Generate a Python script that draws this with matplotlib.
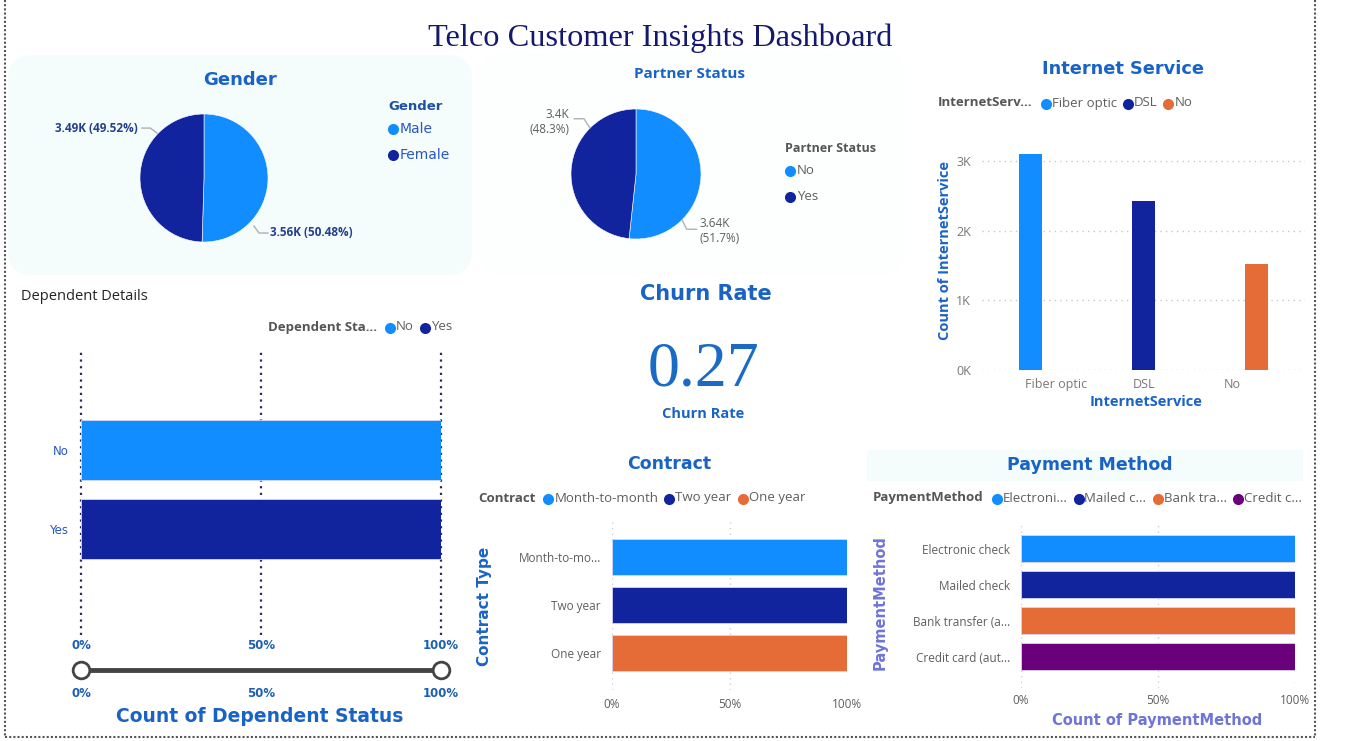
import matplotlib
matplotlib.use("Agg")
import matplotlib.pyplot as plt
from matplotlib.patches import FancyBboxPatch
from matplotlib.ticker import FuncFormatter
import numpy as np

W, H = 1352, 741

# ---- data ----
gender_labels = ["Male", "Female"]
gender_counts = [3555, 3488]

partner_labels = ["No", "Yes"]
partner_counts = [3641, 3402]

churn_rate = 0.27

internet_labels = ["Fiber optic", "DSL", "No"]
internet_counts = [3096, 2421, 1526]
internet_ticks = [0, 1000, 2000, 3000]

dependent_labels = ["No", "Yes"]
dependent_counts = [4933, 2110]

contract_labels = ["Month-to-month", "Two year", "One year"]
contract_ticklabels = ["Month-to-mo...", "Two year", "One year"]
contract_counts = [3875, 1695, 1473]

payment_labels = ["Electronic check", "Mailed check", "Bank transfer (automatic)", "Credit card (automatic)"]
payment_ticklabels = ["Electronic check", "Mailed check", "Bank transfer (a...", "Credit card (aut..."]
payment_legend = ["Electroni...", "Mailed c...", "Bank tra...", "Credit c..."]
payment_counts = [2365, 1612, 1544, 1522]

pct_ticks = [0, 0.5, 1]
pct_ticklabels = ["0%", "50%", "100%"]

# ---- styling ----
COLORS = ["#118DFF", "#12239E", "#E66C37", "#6B007B"]
SANS = "Open Sans"
COMIC = "DejaVu Sans"
TITLE_BLUE = "#1a63c6"
LAVENDER = "#6f74d8"
GRAY = "#605e5c"

fig = plt.figure(figsize=(W / 100, H / 100), dpi=100)
fig.patch.set_facecolor("white")
renderer = fig.canvas.get_renderer()

# background layer in pixel coordinates
bg = fig.add_axes([0, 0, 1, 1])
bg.set_xlim(0, W)
bg.set_ylim(H, 0)
bg.axis("off")


def px_axes(x0, y0, x1, y1):
    ax = fig.add_axes([x0 / W, 1 - y1 / H, (x1 - x0) / W, (y1 - y0) / H])
    ax.set_facecolor("none")
    return ax


def card(x0, y0, x1, y1, color, r=25):
    bg.add_patch(FancyBboxPatch((x0, y0), x1 - x0, y1 - y0,
                                boxstyle=f"round,pad=0,rounding_size={r}",
                                fc=color, ec="none", zorder=0))


def hlegend(x, y, title, labels, colors, fs=9.5):
    t = bg.text(x, y, title, fontsize=fs, fontweight="bold", color="#555555",
                family=SANS, va="center", ha="left")
    x = t.get_window_extent(renderer).x1 + 8
    for lab, c in zip(labels, colors):
        bg.plot([x + 5], [y + 1], "o", ms=8, color=c, mec="none")
        t = bg.text(x + 11, y, lab, fontsize=fs, color=GRAY, family=SANS,
                    va="center", ha="left")
        x = t.get_window_extent(renderer).x1 + 6


def kfmt(v, nd=2):
    s = f"{v / 1000 + 1e-9:.{nd}f}"
    return s.rstrip("0").rstrip(".") + "K"


def pie_label(ax, pts, txt, tx, ty, ha, **kw):
    xs, ys = zip(*pts)
    ax.plot(xs, ys, color="#b0b0b0", lw=1, clip_on=False)
    ax.text(tx, ty, txt, ha=ha, va="center", clip_on=False, **kw)


# ---- border and cards ----
dot = dict(color="#555555", lw=1.5, ls=(0, (1, 1)))
bg.plot([5, 5], [0, 737], **dot)
bg.plot([1315, 1315], [0, 737], **dot)
bg.plot([5, 1315], [737, 737], **dot)

card(8, 55, 472, 275, "#f4fcfc")
card(480, 52, 905, 275, "#fdfefe")
card(867, 450, 1303, 481, "#f4fcfc", r=2)

fig.text(660 / W, 1 - 38 / H, "Telco Customer Insights Dashboard", family="Liberation Serif",
         fontsize=23.3, color="#14196e", ha="center", va="center")

# ---- Gender pie ----
bg.text(240, 80, "Gender", family=COMIC, fontweight="bold", fontsize=13, color=TITLE_BLUE,
        ha="center", va="center")
ax = px_axes(140, 114, 268, 242)
ax.pie(gender_counts, colors=COLORS[:2], startangle=90, counterclock=False, radius=1,
       wedgeprops=dict(edgecolor="white", linewidth=0.4))
ax.set_xlim(-1, 1)
ax.set_ylim(-1, 1)
gtot = sum(gender_counts)
g_txt = [f"{kfmt(c)} ({c / gtot * 100:.2f}%)" for c in gender_counts]
lab_kw = dict(family=SANS, fontsize=8.5, fontweight="bold", color="#23408f")
pie_label(ax, [(0.78, -0.75), (0.86, -0.86), (1.0, -0.86)], g_txt[0], 1.03, -0.85, "left", **lab_kw)
pie_label(ax, [(-0.73, 0.70), (-0.84, 0.78), (-0.97, 0.78)], g_txt[1], -1.03, 0.77, "right", **lab_kw)

bg.text(388, 107, "Gender", family=COMIC, fontweight="bold", fontsize=9.5, color="#1f4fa8",
        ha="left", va="center")
for i, (lab, c) in enumerate(zip(gender_labels, COLORS)):
    yy = 129 + i * 26
    bg.plot([393], [yy], "o", ms=8, color=c, mec="none")
    bg.text(400, yy, lab, family=COMIC, fontsize=10, color="#2a56c6", ha="left", va="center")

# ---- Partner pie ----
bg.text(690, 74, "Partner Status", family=SANS, fontweight="bold", fontsize=11, color=TITLE_BLUE,
        ha="center", va="center")
ax = px_axes(571, 109, 701, 239)
ax.pie(partner_counts, colors=COLORS[:2], startangle=90, counterclock=False, radius=1,
       wedgeprops=dict(edgecolor="white", linewidth=0.4))
ax.set_xlim(-1, 1)
ax.set_ylim(-1, 1)
ptot = sum(partner_counts)
p_txt = [f"{kfmt(c)}\n({c / ptot * 100:.1f}%)" for c in partner_counts]
lab_kw = dict(family=SANS, fontsize=8.5, color=GRAY, linespacing=1.25)
pie_label(ax, [(0.71, -0.71), (0.78, -0.85), (0.93, -0.85)], p_txt[0], 0.98, -0.88, "left",
          multialignment="left", **lab_kw)
pie_label(ax, [(-0.71, 0.71), (-0.80, 0.85), (-0.95, 0.85)], p_txt[1], -1.03, 0.80, "right",
          multialignment="right", **lab_kw)

bg.text(785, 149, "Partner Status", family=SANS, fontweight="bold", fontsize=9, color="#555555",
        ha="left", va="center")
for i, (lab, c) in enumerate(zip(partner_labels, COLORS)):
    yy = 171 + i * 26
    bg.plot([790], [yy], "o", ms=8, color=c, mec="none")
    bg.text(797, yy, lab, family=SANS, fontsize=9.5, color=GRAY, ha="left", va="center")

# ---- Churn rate card ----
bg.text(706, 294, "Churn Rate", family=COMIC, fontweight="bold", fontsize=15, color=TITLE_BLUE,
        ha="center", va="center")
bg.text(704, 370, f"{churn_rate:.2f}", family="Liberation Serif", fontsize=46, color="#1a6bc4",
        ha="center", va="center")
bg.text(703, 414, "Churn Rate", family=SANS, fontweight="bold", fontsize=10.5, color=TITLE_BLUE,
        ha="center", va="center")

# ---- Internet service columns ----
bg.text(1123, 69, "Internet Service", family=COMIC, fontweight="bold", fontsize=12.8, color=TITLE_BLUE,
        ha="center", va="center")
hlegend(938, 103, "InternetServ...", internet_labels, COLORS)
ax = px_axes(982, 140, 1305, 370)
n = len(internet_labels)
slot = 25 / 88
values = np.diag(internet_counts)
for j in range(n):
    ax.bar(np.arange(n) + (j - (n - 1) / 2) * slot, values[:, j], width=23 / 88,
           color=COLORS[j], zorder=3)
ax.set_xlim(-0.84, 2.83)
ax.set_ylim(0, 3300)
ax.set_yticks(internet_ticks)
ax.yaxis.set_major_formatter(FuncFormatter(lambda v, p: f"{v / 1000:.0f}K"))
ax.set_xticks(range(n))
ax.set_xticklabels(internet_labels)
ax.grid(axis="y", color="#c8c8c8", ls=(0, (1, 3)), lw=1)
ax.tick_params(length=0, labelsize=9, labelcolor="#777777")
ax.tick_params(axis="x", pad=6)
ax.tick_params(axis="y", pad=8)
for lbl in ax.get_xticklabels() + ax.get_yticklabels():
    lbl.set_family(SANS)
for s in ax.spines.values():
    s.set_visible(False)
bg.text(1146, 402, "InternetService", family=SANS, fontweight="bold", fontsize=10.5,
        color=TITLE_BLUE, ha="center", va="center")
bg.text(945, 250, "Count of InternetService", family=SANS, fontweight="bold", fontsize=10.5,
        color=TITLE_BLUE, ha="center", va="center", rotation=90)


def pct_bars(ax, counts, colors, height):
    n = len(counts)
    share = np.diag(counts) / np.array(counts, dtype=float)[:, None]
    left = np.zeros(n)
    for j in range(n):
        ax.barh(np.arange(n), share[:, j], left=left, height=height, color=colors[j],
                edgecolor="#d6d6f5", linewidth=0.6, zorder=3)
        left += share[:, j]
    ax.set_xlim(0, 1)
    ax.set_xticks(pct_ticks)
    ax.set_xticklabels(pct_ticklabels)
    ax.set_yticks(range(n))
    for s in ax.spines.values():
        s.set_visible(False)
    ax.set_axisbelow(True)


# ---- Dependent details ----
bg.text(21, 296, "Dependent Details", family=SANS, fontsize=10.5, color="#252423",
        ha="left", va="center")
hlegend(268, 327, "Dependent Sta...", dependent_labels, COLORS)
ax = px_axes(81, 352, 441, 635)
pct_bars(ax, dependent_counts, COLORS, 60 / 79)
ax.set_ylim(2.34, -1.24)
ax.set_yticklabels(dependent_labels)
ax.grid(axis="x", color="#2b2b5e", ls=(0, (1, 2)), lw=1.6)
for gl in ax.get_xgridlines():
    gl.set_clip_on(False)
ax.tick_params(length=0)
ax.tick_params(axis="x", pad=3, labelsize=8.5, labelcolor="#1a5fb4")
ax.tick_params(axis="y", pad=9, labelsize=8.5, labelcolor="#2a56c6")
for lbl in ax.get_xticklabels():
    lbl.set_family(COMIC)
    lbl.set_fontweight("bold")
for lbl in ax.get_yticklabels():
    lbl.set_family(COMIC)

sl = px_axes(81, 660, 441, 680)
sl.plot([0, 1], [0, 0], color="#444444", lw=3.5, solid_capstyle="butt")
sl.plot([0, 1], [0, 0], "o", ms=12, mfc="white", mec="#444444", mew=2, clip_on=False)
sl.set_xlim(0, 1)
sl.set_ylim(-1, 1)
sl.set_yticks([])
sl.set_xticks(pct_ticks)
sl.set_xticklabels(pct_ticklabels)
sl.tick_params(length=0, pad=5, labelsize=8.5, labelcolor="#1a5fb4")
for lbl in sl.get_xticklabels():
    lbl.set_family(COMIC)
    lbl.set_fontweight("bold")
for s in sl.spines.values():
    s.set_visible(False)
bg.text(260, 716, "Count of Dependent Status", family=COMIC, fontweight="bold", fontsize=13.5,
        color=TITLE_BLUE, ha="center", va="center")

# ---- Contract ----
bg.text(669, 464, "Contract", family=COMIC, fontweight="bold", fontsize=12.5, color=TITLE_BLUE,
        ha="center", va="center")
hlegend(478, 498, "Contract", contract_labels, COLORS)
ax = px_axes(612, 522, 847, 690)
pct_bars(ax, contract_counts, COLORS, 0.75)
ax.set_ylim(2.77, -0.73)
ax.set_yticklabels(contract_ticklabels)
ax.grid(axis="x", color="#d0d0d0", ls=(0, (1, 3)), lw=1)
ax.tick_params(length=0, labelsize=8.5, labelcolor=GRAY)
ax.tick_params(axis="x", pad=6)
ax.tick_params(axis="y", pad=8)
for lbl in ax.get_xticklabels() + ax.get_yticklabels():
    lbl.set_family(SANS)
bg.text(485, 606, "Contract Type", family=COMIC, fontweight="bold", fontsize=11, color=TITLE_BLUE,
        ha="center", va="center", rotation=90)

# ---- Payment method ----
bg.text(1090, 465, "Payment Method", family=COMIC, fontweight="bold", fontsize=12.5,
        color=TITLE_BLUE, ha="center", va="center")
hlegend(873, 498, "PaymentMethod", payment_legend, COLORS)
ax = px_axes(1021, 522, 1295, 688)
pct_bars(ax, payment_counts, COLORS, 0.75)
ax.set_ylim(3.87, -0.74)
ax.set_yticklabels(payment_ticklabels)
ax.grid(axis="x", color="#d0d0d0", ls=(0, (1, 3)), lw=1)
ax.tick_params(length=0, labelsize=8.5, labelcolor=GRAY)
ax.tick_params(axis="x", pad=4)
ax.tick_params(axis="y", pad=8)
for lbl in ax.get_xticklabels() + ax.get_yticklabels():
    lbl.set_family(SANS)
bg.text(880, 603, "PaymentMethod", family=COMIC, fontweight="bold", fontsize=10.5, color=LAVENDER,
        ha="center", va="center", rotation=90)
bg.text(1157, 720, "Count of PaymentMethod", family=COMIC, fontweight="bold", fontsize=10.5,
        color=LAVENDER, ha="center", va="center")

fig.savefig("out.png", dpi=100, facecolor="white")
